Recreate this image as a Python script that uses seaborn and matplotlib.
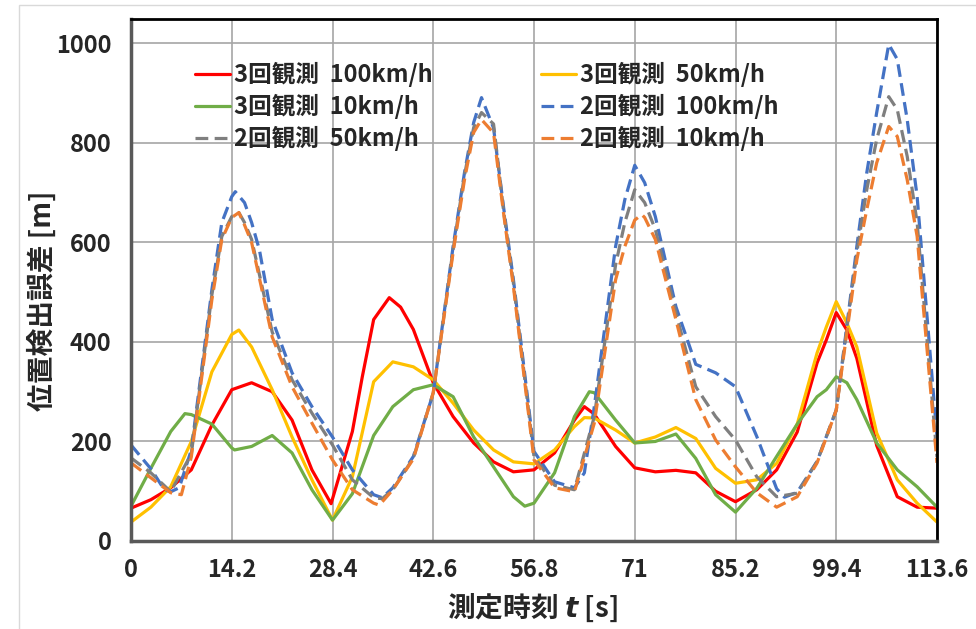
import matplotlib
matplotlib.use('Agg')
import matplotlib.pyplot as plt
import seaborn as sns
from matplotlib.patches import Rectangle

# Werte (t in s, Fehler in m)
t_red = [0, 2.8, 5.6, 8.5, 11.4, 14.2, 17.0, 19.9, 22.7, 25.5, 28.2, 31.2, 32.6, 34.2, 36.4, 38.0,
         39.8, 42.6, 45.4, 48.3, 51.1, 53.9, 56.8, 59.7, 62.5, 63.9, 65.3, 68.3, 71.0, 73.9, 76.8,
         79.6, 82.4, 85.2, 88.2, 91.0, 93.9, 96.7, 98.0, 99.4, 100.9, 102.3, 105.1, 108.0, 110.8,
         113.6]
v_red = [66, 83, 107, 143, 233, 304, 318, 300, 243, 143, 75, 220, 330, 445, 489, 470,
         425, 318, 250, 197, 159, 139, 143, 177, 243, 270, 255, 190, 147, 139, 142,
         137, 100, 79, 103, 143, 219, 358, 404, 459, 424, 367, 192, 89, 68,
         66]

t_yellow = [0, 2.8, 5.6, 8.5, 11.4, 14.2, 15.2, 17.0, 19.9, 22.7, 25.5, 28.4, 31.2, 34.2, 36.9,
            39.8, 42.6, 45.4, 48.3, 51.1, 53.9, 56.8, 59.7, 62.5, 63.9, 65.3, 68.3, 71.0, 73.9,
            76.8, 79.6, 82.4, 85.2, 88.2, 91.0, 93.9, 96.7, 98.0, 99.4, 100.9, 102.3, 105.1, 108.0,
            110.8, 113.6]
v_yellow = [38, 68, 109, 200, 340, 415, 424, 390, 304, 209, 123, 42, 129, 320, 360,
            350, 324, 277, 223, 183, 159, 155, 183, 230, 248, 247, 223, 197, 209,
            228, 206, 146, 116, 123, 156, 235, 378, 430, 481, 438, 390, 217, 123,
            76, 38]

t_green = [0, 2.8, 5.6, 7.6, 8.5, 11.4, 14.2, 14.6, 17.0, 19.9, 22.7, 25.5, 28.4, 31.2, 34.2,
           36.9, 39.8, 42.6, 45.4, 48.3, 51.1, 53.9, 55.5, 56.8, 59.7, 62.5, 64.6, 65.3, 68.3,
           71.0, 73.9, 76.8, 79.6, 82.4, 85.2, 88.2, 91.0, 93.9, 96.7, 98.0, 99.4, 100.9, 102.3,
           105.1, 108.0, 110.8, 113.6]
v_green = [70, 146, 220, 256, 254, 235, 187, 183, 190, 212, 177, 103, 42, 95, 212,
           270, 304, 314, 290, 209, 149, 89, 70, 76, 137, 250, 300, 298, 243,
           197, 200, 215, 166, 93, 58, 106, 170, 235, 290, 304, 330, 318, 284,
           197, 143, 109, 68]

t_blue = [0, 2.8, 4.7, 5.6, 6.8, 8.5, 11.4, 12.8, 14.2, 14.7, 16.0, 17.0, 18.1, 19.9, 22.7, 25.5,
          28.4, 31.2, 34.2, 35.4, 36.9, 39.8, 42.6, 45.4, 47.0, 48.3, 49.4, 51.1, 52.5, 53.9, 56.8,
          59.7, 62.5, 63.9, 65.3, 68.3, 69.6, 71.0, 72.4, 73.9, 76.8, 79.6, 82.4, 85.2, 88.2, 91.0,
          92.1, 93.9, 96.7, 99.4, 102.3, 103.7, 105.1, 106.8, 108.0, 109.4, 110.8, 113.6]
v_blue = [193, 145, 103, 99, 107, 183, 505, 640, 692, 702, 680, 640, 585, 445, 338, 270,
          209, 143, 93, 87, 107, 170, 297, 592, 740, 841, 891, 830, 672, 525, 180,
          119, 107, 137, 270, 592, 686, 755, 720, 652, 471, 355, 338, 310, 210, 105,
          88, 98, 160, 263, 592, 740, 861, 998, 968, 847, 692, 209]

t_gray = [0, 2.8, 5.6, 8.5, 11.4, 12.8, 14.2, 15.2, 16.0, 17.0, 19.9, 22.7, 25.5, 28.4, 31.2,
          34.2, 35.4, 36.9, 39.8, 42.6, 45.4, 47.0, 48.3, 49.4, 51.1, 52.5, 53.9, 56.8, 59.7,
          62.5, 65.3, 68.3, 69.6, 71.0, 72.4, 73.9, 76.8, 79.6, 82.4, 85.2, 88.2, 91.0, 93.9,
          96.7, 99.4, 102.3, 103.7, 105.1, 106.8, 108.0, 109.4, 110.8, 113.6]
v_gray = [167, 137, 99, 175, 495, 612, 652, 660, 640, 606, 420, 324, 257, 193, 123,
          87, 85, 103, 167, 298, 586, 735, 831, 861, 838, 665, 518, 170, 112,
          103, 250, 555, 640, 706, 680, 626, 458, 310, 250, 203, 129, 89, 96,
          160, 263, 580, 706, 807, 893, 867, 773, 640, 169]

t_orange = [0, 2.8, 5.6, 7.1, 8.5, 11.4, 12.8, 14.2, 15.2, 16.0, 17.0, 19.9, 22.7, 25.5, 28.4,
            31.2, 34.2, 35.0, 36.9, 39.8, 42.6, 45.4, 47.0, 48.3, 49.4, 51.1, 52.5, 53.9, 56.8,
            59.7, 62.5, 65.3, 68.3, 69.6, 71.0, 72.0, 72.4, 73.9, 76.8, 79.6, 82.4, 85.2, 88.2,
            91.0, 93.9, 96.7, 99.4, 102.3, 103.7, 105.1, 106.8, 108.0, 109.4, 110.8, 113.6]
v_orange = [157, 127, 97, 93, 169, 485, 606, 650, 660, 635, 600, 410, 310, 237, 163,
            103, 76, 72, 103, 165, 298, 580, 726, 821, 847, 820, 660, 511, 163,
            107, 99, 237, 525, 592, 645, 656, 650, 606, 445, 284, 203, 149, 97,
            68, 89, 157, 263, 565, 666, 760, 833, 813, 726, 612, 157]

x_ticks = [0, 14.2, 28.4, 42.6, 56.8, 71, 85.2, 99.4, 113.6]
x_labels = ['0', '14.2', '28.4', '42.6', '56.8', '71', '85.2', '99.4', '113.6']
y_ticks = [0, 200, 400, 600, 800, 1000]

dash = (0, (4, 2))
series = [
    ('3回観測  100km/h', t_red, v_red, '#FF0000', '-'),
    ('3回観測  50km/h', t_yellow, v_yellow, '#FFC000', '-'),
    ('3回観測  10km/h', t_green, v_green, '#70AD47', '-'),
    ('2回観測  100km/h', t_blue, v_blue, '#4472C4', dash),
    ('2回観測  50km/h', t_gray, v_gray, '#7F7F7F', dash),
    ('2回観測  10km/h', t_orange, v_orange, '#ED7D31', dash),
]

sns.set_theme(style='white')
plt.rcParams['font.family'] = ['Noto Sans CJK JP', 'DejaVu Sans']
plt.rcParams['font.weight'] = 'bold'
plt.rcParams['mathtext.fontset'] = 'custom'
plt.rcParams['mathtext.it'] = 'DejaVu Sans:italic:bold'

fig = plt.figure(figsize=(9.76, 6.29), dpi=100)
ax = fig.add_axes([131 / 976, 1 - 541 / 629, 806 / 976, 522 / 629])

for name, t, v, col, ls in series:
    sns.lineplot(x=t, y=v, ax=ax, color=col, linewidth=2.3, label=name,
                 estimator=None, sort=False, linestyle=ls)

ax.set_xlim(0, 113.6)
ax.set_ylim(0, 1049)
ax.set_xticks(x_ticks)
ax.set_xticklabels(x_labels)
ax.set_yticks(y_ticks)
ax.tick_params(axis='both', length=0, labelsize=17)
ax.tick_params(axis='y', pad=14)
ax.tick_params(axis='x', pad=12)
for lab in ax.get_xticklabels() + ax.get_yticklabels():
    lab.set_fontweight('bold')
ax.grid(True, color='#A6A6A6', linewidth=1.2)
ax.set_axisbelow(True)

for side in ['top', 'right']:
    ax.spines[side].set_color('black')
    ax.spines[side].set_linewidth(2)
for side in ['left', 'bottom']:
    ax.spines[side].set_color('#595959')
    ax.spines[side].set_linewidth(2.5)

ax.set_ylabel('位置検出誤差 [m]', fontsize=20, fontweight='bold')
ax.yaxis.set_label_coords(-0.092, 0.46)
ax.set_xlabel('測定時刻 $t$ [s]', fontsize=20, fontweight='bold')
ax.xaxis.set_label_coords(0.4975, -0.098)

handles, labels = ax.get_legend_handles_labels()
order = [0, 2, 4, 1, 3, 5]
ax.legend([handles[i] for i in order], [labels[i] for i in order], ncol=2,
          loc='upper left', bbox_to_anchor=(0.079, 0.918), frameon=False,
          handlelength=1.5, handletextpad=0.15, columnspacing=4.6,
          labelspacing=0.3, borderpad=0, borderaxespad=0, prop={'weight': 'bold', 'size': 17})

fig.patches.append(Rectangle((19 / 976, -0.1), 1.0, 1.1 - 5 / 629, transform=fig.transFigure,
                             fill=False, edgecolor='#D9D9D9', linewidth=1))

fig.savefig('out.png', dpi=100)
plt.close(fig)
